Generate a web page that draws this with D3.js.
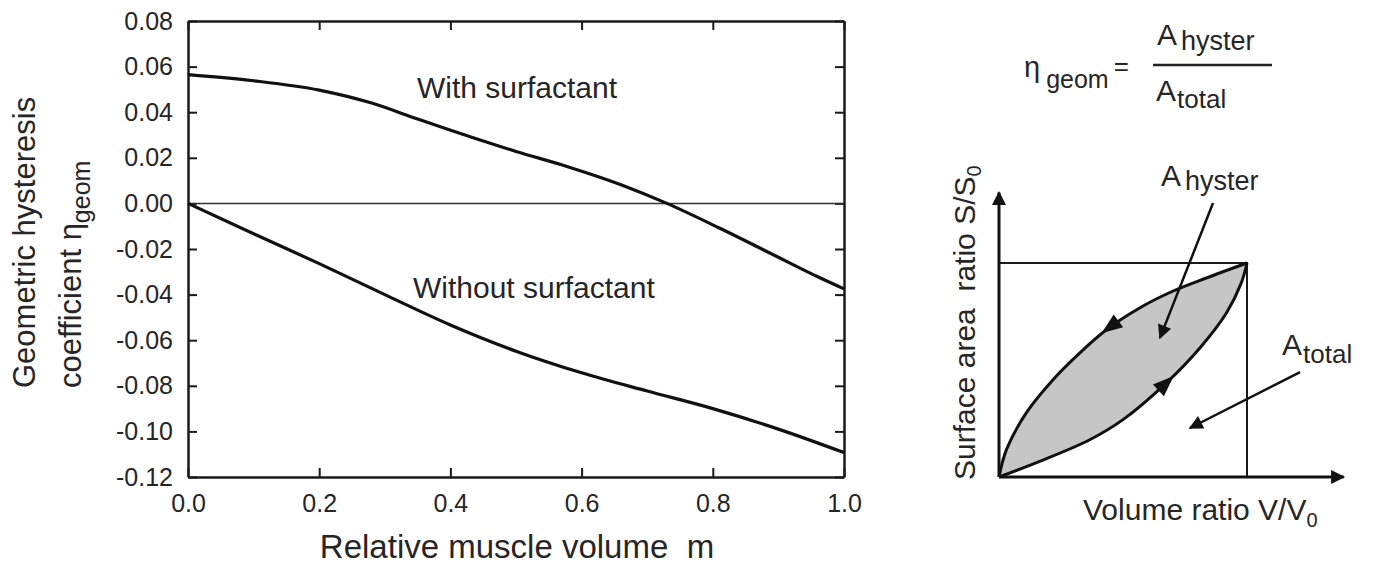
<!DOCTYPE html>
<html>
<head>
<meta charset="utf-8">
<script src="https://cdn.jsdelivr.net/npm/d3@7"></script>
<style>
  body { margin: 0; background: #fff; }
  svg { display: block; font-family: 'Liberation Sans', Arial, sans-serif; }
  text { fill: #262626; }
</style>
</head>
<body>
<svg id="chart" width="1373" height="566"></svg>
<script>
// left panel data
let mTicks = [0, 0.2, 0.4, 0.6, 0.8, 1.0]
let etaTicks = [0.08, 0.06, 0.04, 0.02, 0.00, -0.02, -0.04, -0.06, -0.08, -0.10, -0.12]
let withM = [0, 0.1, 0.2, 0.28, 0.35, 0.43, 0.5, 0.58, 0.66, 0.73, 0.81, 0.89, 0.96, 1.0]
let withEta = [0.0565, 0.0538, 0.0497, 0.0440, 0.0370, 0.0292, 0.0228, 0.0160, 0.0082, 0.0, -0.0108, -0.0222, -0.0322, -0.0375]
let withoutM = [0, 0.1, 0.2, 0.3, 0.4, 0.5, 0.6, 0.7, 0.8, 0.9, 1.0]
let withoutEta = [0, -0.0133, -0.0264, -0.0400, -0.0533, -0.0648, -0.0743, -0.0823, -0.0900, -0.0990, -0.1093]

// right panel (schematic) data, in units of the box
let upperU = [0, 0.03, 0.11, 0.218, 0.325, 0.433, 0.567, 0.70, 0.836, 1]
let upperV = [0, 0.128, 0.30, 0.455, 0.579, 0.688, 0.79, 0.868, 0.93, 1]
let lowerU = [0, 0.164, 0.366, 0.5, 0.675, 0.81, 0.917, 0.977, 1]
let lowerV = [0, 0.073, 0.174, 0.268, 0.44, 0.603, 0.766, 0.907, 1]
let axisEnd = [1.39, 1.33]
let hysterArrow = [[0.863, 1.28], [0.649, 0.65]]
let totalArrow = [[1.214, 0.49], [0.77, 0.229]]

let svg = d3.select('#chart')

// ---------- left chart ----------
let xScale = d3.scaleLinear().domain([0, 1]).range([188, 844])
let yScale = d3.scaleLinear().domain([-0.12, 0.08]).range([477, 21])
let tick = 9

function styleAxis(g) {
    g.selectAll('.domain').attr('stroke', '#1a1a1a').attr('stroke-width', 2.5)
    g.selectAll('.tick line').attr('stroke', '#1a1a1a').attr('stroke-width', 2)
    g.selectAll('.tick text').attr('fill', '#262626').attr('font-size', 25)
        .attr('font-family', "'Liberation Sans', Arial, sans-serif")
}

svg.append('g').attr('transform', 'translate(0,' + yScale(-0.12) + ')')
    .call(d3.axisBottom(xScale).tickValues(mTicks).tickSize(-tick).tickSizeOuter(0)
        .tickPadding(17).tickFormat(d => d.toFixed(1)))
    .call(styleAxis)
svg.append('g').attr('transform', 'translate(0,' + yScale(0.08) + ')')
    .call(d3.axisTop(xScale).tickValues(mTicks).tickSize(-tick).tickSizeOuter(0).tickFormat(''))
    .call(styleAxis)
svg.append('g').attr('transform', 'translate(' + xScale(0) + ',0)')
    .call(d3.axisLeft(yScale).tickValues(etaTicks).tickSize(-tick).tickSizeOuter(0)
        .tickPadding(15).tickFormat(d => d.toFixed(2)))
    .call(styleAxis)
svg.append('g').attr('transform', 'translate(' + xScale(1) + ',0)')
    .call(d3.axisRight(yScale).tickValues(etaTicks).tickSize(-tick).tickSizeOuter(0).tickFormat(''))
    .call(styleAxis)

// zero line
svg.append('line')
    .attr('x1', xScale(0)).attr('x2', xScale(1))
    .attr('y1', yScale(0)).attr('y2', yScale(0))
    .attr('stroke', '#333').attr('stroke-width', 1.5)

let line = d3.line().x(d => xScale(d[0])).y(d => yScale(d[1])).curve(d3.curveMonotoneX)
svg.append('path').datum(d3.zip(withM, withEta)).attr('d', line)
    .attr('fill', 'none').attr('stroke', '#111').attr('stroke-width', 3.2)
svg.append('path').datum(d3.zip(withoutM, withoutEta)).attr('d', line)
    .attr('fill', 'none').attr('stroke', '#111').attr('stroke-width', 3.2)

svg.append('text').attr('x', 417).attr('y', 98).attr('font-size', 30).text('With surfactant')
svg.append('text').attr('x', 413).attr('y', 298).attr('font-size', 30).text('Without surfactant')

// axis titles
svg.append('text').attr('x', 517).attr('y', 558).attr('font-size', 33).attr('text-anchor', 'middle')
    .attr('xml:space', 'preserve').text('Relative muscle volume  m')
let yt = svg.append('g').attr('transform', 'translate(35,388) rotate(-90)')
yt.append('text').attr('x', 0).attr('y', 0).attr('font-size', 31).text('Geometric hysteresis')
let yt2 = yt.append('text').attr('x', 0).attr('y', 46).attr('font-size', 31)
yt2.append('tspan').text('coefficient \u03b7')
yt2.append('tspan').attr('dy', 9).attr('font-size', 25).text('geom')

// ---------- right schematic ----------
let uScale = d3.scaleLinear().domain([0, 1]).range([999, 1247])
let vScale = d3.scaleLinear().domain([0, 1]).range([477, 263])

let defs = svg.append('defs')
defs.append('marker').attr('id', 'head').attr('viewBox', '0 0 10 10')
    .attr('refX', 9).attr('refY', 5).attr('markerWidth', 20).attr('markerHeight', 14)
    .attr('markerUnits', 'userSpaceOnUse').attr('orient', 'auto')
    .append('path').attr('d', 'M0,0 L10,5 L0,10 Z').attr('fill', '#111')

let lens = d3.line().x(d => uScale(d[0])).y(d => vScale(d[1])).curve(d3.curveCatmullRom.alpha(0.5))
let upper = d3.zip(upperU, upperV)
let lower = d3.zip(lowerU, lowerV)

// shaded hysteresis area
let fillD = lens(upper) + lens(lower.slice().reverse()).replace(/^M/, 'L') + 'Z'
svg.append('path').attr('d', fillD).attr('fill', '#c6c6c6').attr('stroke', 'none')

// box
svg.append('path')
    .attr('d', 'M' + uScale(0) + ',' + vScale(1) + 'H' + uScale(1) + 'V' + vScale(0))
    .attr('fill', 'none').attr('stroke', '#1a1a1a').attr('stroke-width', 2)

let upPath = svg.append('path').attr('d', lens(upper)).attr('fill', 'none')
    .attr('stroke', '#111').attr('stroke-width', 3)
let lowPath = svg.append('path').attr('d', lens(lower)).attr('fill', 'none')
    .attr('stroke', '#111').attr('stroke-width', 3)

// axes with arrows
svg.append('line').attr('x1', uScale(0)).attr('y1', vScale(0))
    .attr('x2', uScale(0)).attr('y2', vScale(axisEnd[1]))
    .attr('stroke', '#111').attr('stroke-width', 3).attr('marker-end', 'url(#head)')
svg.append('line').attr('x1', uScale(0)).attr('y1', vScale(0))
    .attr('x2', uScale(axisEnd[0])).attr('y2', vScale(0))
    .attr('stroke', '#111').attr('stroke-width', 3).attr('marker-end', 'url(#head)')

// arrowheads sitting on the loop
function headOnPath(pathSel, targetU, reverse) {
    let node = pathSel.node()
    let len = node.getTotalLength()
    let tx = uScale(targetU)
    let best = 0, bestD = Infinity
    for (let l = 0; l <= len; l += 1) {
        let p = node.getPointAtLength(l)
        if (Math.abs(p.x - tx) < bestD) { bestD = Math.abs(p.x - tx); best = l }
    }
    let a = node.getPointAtLength(best - 4), b = node.getPointAtLength(best + 4)
    let ang = Math.atan2(b.y - a.y, b.x - a.x) * 180 / Math.PI + (reverse ? 180 : 0)
    let p = node.getPointAtLength(best)
    svg.append('path').attr('d', 'M10,0 L-11,-8 L-11,8 Z').attr('fill', '#111')
        .attr('transform', 'translate(' + p.x + ',' + p.y + ') rotate(' + ang + ')')
}
headOnPath(upPath, 0.446, true)
headOnPath(lowPath, 0.675, false)

// callout arrows
function callout(pts) {
    svg.append('line').attr('x1', uScale(pts[0][0])).attr('y1', vScale(pts[0][1]))
        .attr('x2', uScale(pts[1][0])).attr('y2', vScale(pts[1][1]))
        .attr('stroke', '#111').attr('stroke-width', 2.5).attr('marker-end', 'url(#head)')
}
callout(hysterArrow)
callout(totalArrow)

// labels
let lh = svg.append('text').attr('x', 1161).attr('y', 186).attr('font-size', 30)
lh.append('tspan').text('A')
lh.append('tspan').attr('dx', 4).attr('dy', 4).attr('font-size', 27).text('hyster')
let lt = svg.append('text').attr('x', 1282).attr('y', 355).attr('font-size', 30)
lt.append('tspan').text('A')
lt.append('tspan').attr('dx', 1).attr('dy', 8).attr('font-size', 26).text('total')

let xl = svg.append('text').attr('x', 1083).attr('y', 520).attr('font-size', 30)
xl.append('tspan').text('Volume ratio V/V')
xl.append('tspan').attr('dy', 7).attr('font-size', 20).text('0')
let yl = svg.append('text').attr('transform', 'translate(975,480) rotate(-90)').attr('font-size', 30)
    .attr('xml:space', 'preserve')
yl.append('tspan').text('Surface area  ratio S/S')
yl.append('tspan').attr('dy', 6).attr('font-size', 20).text('0')

// formula
let f1 = svg.append('text').attr('x', 1024).attr('y', 77).attr('font-size', 29)
f1.append('tspan').text('\u03b7')
f1.append('tspan').attr('dx', 6).attr('dy', 11).attr('font-size', 25).text('geom')
f1.append('tspan').attr('dx', 5).attr('dy', -13).attr('font-size', 26).text('=')
svg.append('line').attr('x1', 1153).attr('x2', 1272).attr('y1', 65).attr('y2', 65)
    .attr('stroke', '#222').attr('stroke-width', 2.5)
let num = svg.append('text').attr('x', 1157).attr('y', 45).attr('font-size', 30)
num.append('tspan').text('A')
num.append('tspan').attr('dx', 4).attr('dy', 5).attr('font-size', 27).text('hyster')
let den = svg.append('text').attr('x', 1156).attr('y', 101).attr('font-size', 30)
den.append('tspan').text('A')
den.append('tspan').attr('dx', 1).attr('dy', 7).attr('font-size', 26).text('total')
</script>
</body>
</html>
